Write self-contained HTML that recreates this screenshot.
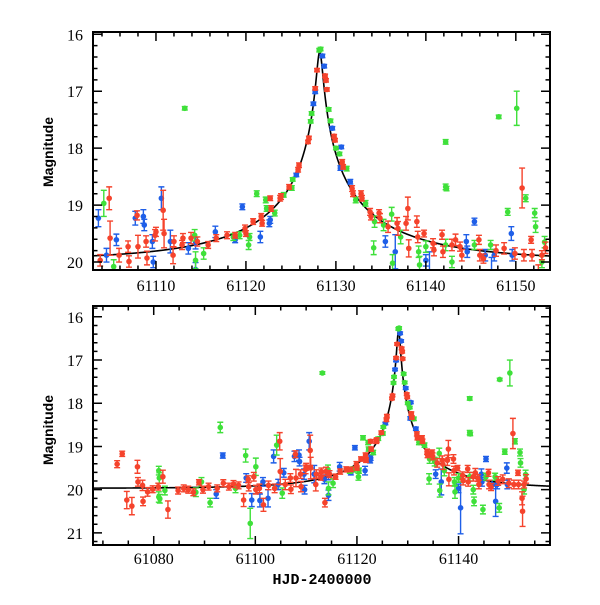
<!DOCTYPE html>
<html><head><meta charset="utf-8"><style>
html,body{margin:0;padding:0;background:#fff;}
svg text{font-family:"Liberation Serif",serif;}
</style></head><body>
<svg id="chart" xmlns="http://www.w3.org/2000/svg" width="600" height="600" viewBox="0 0 600 600">
<rect width="600" height="600" fill="#fff"/>
<text x="0" y="0" transform="translate(53,152) rotate(-90)" text-anchor="middle" style="font-family:'Liberation Sans',sans-serif;font-weight:bold;font-size:14px">Magnitude</text>
<text x="0" y="0" transform="translate(53,430) rotate(-90)" text-anchor="middle" style="font-family:'Liberation Sans',sans-serif;font-weight:bold;font-size:14px">Magnitude</text>
<text x="322" y="584" text-anchor="middle" style="font-family:'Liberation Mono',monospace;font-weight:bold;font-size:15px">HJD-2400000</text>
</svg>
<script>
const blueT=[61103.6,61104.5,61105.6,61107.7,61108.6,61108.7,61109.6,61109.7,61110.6,61111.6,61113.6,61114.4,61114.4,61116.6,61118.8,61119.6,61121.6,61122.6,61122.7,61125.6,61127.5,61127.7,61128.5,61128.7,61129.6,61130.6,61130.5,61131.6,61135.5,61136.6,61140.0,61140.4,61144.5,61144.6,61145.4,61146.6,61147.3,61147.6,61149.5,61149.6,61092.3,61093.6,61098.2,61099.3,61101.5,61102.5,61100.9];
const blueM=[19.23,19.88,19.61,19.23,19.20,19.35,19.64,20.00,18.88,19.64,19.76,20.13,19.67,19.47,19.61,19.03,19.56,19.32,19.26,18.47,17.22,17.01,16.38,16.56,17.65,17.98,18.35,18.59,19.64,19.82,19.97,20.42,19.64,19.82,19.29,19.88,20.27,19.88,19.50,19.88,20.10,19.21,19.73,20.24,19.82,20.2,20.25];
const blueE=[.15,.12,.1,.12,.12,.1,.12,.1,.2,.2,.1,.12,.1,.1,.05,.05,.1,.06,.06,.03,.03,.03,.03,.03,.03,.03,.04,.04,.1,.3,.1,.6,.12,.1,.06,.1,.35,.1,.12,.1,.1,.06,.1,.15,.1,.2,.15];

const redT=[61072.8,61073.8,61074.7,61075.7,61076.8,61076.9,61077.8,61077.9,61078.8,61079.8,61080.9,61081.8,61082.8,61084.8,61085.9,61086.8,61087.8,61088.9,61089.7,61090.8,61092.5,61093.7,61094.8,61095.7,61096.7,61097.7,61098.6,61098.7,61099.7,61100.1,61100.8,61101.6,61102.6,61103.8,61104.8,61104.9,61105.9,61106.9,61107.0,61107.9,61108.0,61108.9,61109.0,61109.9,61110.0,61110.8,61110.9,61111.9,61112.0,61112.9,61113.0,61113.7,61113.9,61114.6,61115.8,61116.7,61117.9,61118.8,61119.9,61120.0,61120.8,61121.7,61121.8,61122.7,61122.8,61123.8,61123.9,61124.8,61125.8,61125.9,61126.9,61127.0,61127.7,61127.9,61128.8,61128.9,61129.0,61129.8,61129.9,61130.7,61130.8,61131.8,61131.9,61132.8,61132.9,61133.8,61133.9,61134.8,61134.9,61135.8,61136.8,61136.9,61137.8,61138.0,61138.1,61139.0,61139.1,61139.8,61140.8,61140.9,61141.8,61141.9,61142.9,61143.3,61143.8,61144.0,61145.9,61146.0,61146.4,61147.8,61148.7,61149.9,61150.7,61150.9,61151.7,61151.8,61152.6,61152.5,61152.9,61153.3];
const redM=[19.41,19.17,20.24,20.38,19.47,19.82,19.90,20.27,20.05,19.99,19.93,19.70,20.46,20.02,19.97,20.00,20.06,19.83,20.00,19.93,19.97,19.85,19.93,19.87,19.90,20.24,19.76,19.93,19.70,20.00,19.97,20.35,19.90,19.97,18.88,19.58,19.88,19.73,19.99,19.18,19.73,19.64,19.93,19.53,19.47,19.09,19.50,19.88,19.64,19.70,19.58,20.30,19.58,19.64,19.70,19.58,19.53,19.53,19.41,19.50,19.29,19.20,19.32,18.88,19.06,18.88,18.85,18.68,18.38,18.30,17.89,17.82,16.95,16.63,16.73,16.81,16.97,17.79,17.86,18.24,18.33,18.71,18.80,18.80,18.88,19.12,19.20,19.14,19.23,19.38,19.32,19.41,19.32,19.06,19.76,19.29,19.56,19.50,19.67,19.79,19.52,19.82,19.70,19.61,19.73,19.88,19.61,19.88,19.94,19.80,19.76,19.85,18.70,19.88,19.61,19.88,20.50,20.20,19.88,19.75];
const redE=[.08,.06,.2,.2,.15,.1,.12,.1,.1,.08,.08,.15,.2,.08,.08,.08,.08,.06,.08,.08,.08,.08,.08,.08,.08,.15,.08,.1,.1,.1,.1,.15,.1,.1,.2,.3,.12,.1,.1,.08,.2,.1,.12,.1,.08,.35,.25,.15,.1,.08,.08,.1,.1,.08,.06,.06,.06,.05,.06,.05,.05,.05,.05,.04,.05,.05,.05,.04,.04,.04,.03,.03,.03,.03,.03,.03,.03,.03,.03,.04,.04,.05,.05,.05,.05,.06,.06,.06,.08,.1,.1,.12,.12,.2,.15,.1,.1,.06,.08,.1,.08,.1,.1,.1,.08,.1,.08,.1,.08,.1,.1,.1,.35,.1,.06,.1,.35,.15,.08,.1];

const greenT=[61081.0,61081.1,61081.0,61081.2,61082.2,61088.3,61089.4,61091.1,61093.1,61096.1,61098.1,61099.0,61100.1,61104.2,61105.3,61113.2,61114.3,61114.4,61115.3,61118.6,61119.3,61120.3,61120.4,61121.2,61122.2,61122.3,61123.2,61124.2,61125.1,61125.2,61127.2,61127.3,61128.15,61128.3,61129.2,61129.4,61130.0,61130.4,61131.2,61132.2,61133.3,61134.3,61134.2,61135.3,61136.2,61136.3,61137.2,61139.2,61139.3,61140.0,61142.2,61142.2,61142.3,61142.2,61142.9,61143.05,61144.8,61145.4,61147.2,61148.0,61148.1,61149.1,61150.1,61151.1,61152.1,61152.2,61153.2,61152.9];
const greenM=[19.56,19.73,20.17,20.21,20.02,20.06,19.82,20.30,18.56,19.97,19.21,20.78,19.47,18.97,20.08,17.30,19.53,19.97,19.85,19.56,19.53,19.70,19.56,18.80,18.91,19.06,19.14,18.82,18.70,18.55,17.53,17.39,16.28,16.26,17.32,17.52,18.00,18.10,18.36,18.91,18.97,19.29,19.75,19.35,19.16,20.02,19.56,19.82,20.05,19.73,17.89,18.68,18.71,19.70,20.00,20.27,20.46,19.70,19.70,20.42,17.45,19.12,17.30,18.88,19.14,19.38,19.65,20.00];
const greenE=[.1,.12,.12,.1,.1,.1,.1,.1,.12,.1,.15,.35,.2,.23,.12,.03,.1,.15,.1,.06,.06,.08,.06,.05,.05,.05,.05,.04,.04,.03,.03,.03,.03,.03,.03,.03,.03,.03,.04,.05,.05,.1,.12,.1,.12,.15,.12,.1,.15,.1,.04,.05,.04,.1,.1,.1,.1,.08,.08,.1,.03,.06,.3,.06,.08,.1,.1,.1];

const topXTicks=[61110,61120,61130,61140,61150];
const bottomXTicks=[61080,61100,61120,61140];
const topYTicks=[16,17,18,19,20];
const bottomYTicks=[16,17,18,19,20,21];
// microlensing model parameters
const model={t0:61128.2,tE:17,u0:0.0192,fs:0.55,mbase:19.97};

const NS='http://www.w3.org/2000/svg';
const svg=document.getElementById('chart');
function mk(tag,attrs,parent){const e=document.createElementNS(NS,tag);for(const k in attrs)e.setAttribute(k,attrs[k]);(parent||svg).appendChild(e);return e;}
function modelMag(t){const u=Math.sqrt(model.u0*model.u0+Math.pow((t-model.t0)/model.tE,2));const A=(u*u+2)/(u*Math.sqrt(u*u+4));return model.mbase-2.5*Math.log10(model.fs*A+1-model.fs);}

const panels=[
 {id:'top',L:93,R:550,T:32,B:270,xmin:61103.0,xmax:61153.8,ymin:15.96,ymax:20.14,xt:topXTicks,xminor:2,yt:topYTicks,labelY:291},
 {id:'bottom',L:93,R:550,T:306,B:545,xmin:61068.05,xmax:61158.0,ymin:15.75,ymax:21.28,xt:bottomXTicks,xminor:5,yt:bottomYTicks,labelY:564}
];
const colors={blue:'#1f5fe8',green:'#3fe03a',red:'#f5432c'};
const series=[['blue',blueT,blueM,blueE],['green',greenT,greenM,greenE],['red',redT,redM,redE]];

panels.forEach(p=>{
 const sx=t=>p.L+(t-p.xmin)/(p.xmax-p.xmin)*(p.R-p.L);
 const sy=m=>p.T+(m-p.ymin)/(p.ymax-p.ymin)*(p.B-p.T);
 const g=mk('g',{});
 
 
 const clip=mk('clipPath',{id:'clip-'+p.id},g);
 mk('rect',{x:p.L,y:p.T,width:p.R-p.L,height:p.B-p.T},clip);
 const plot=mk('g',{'clip-path':'url(#clip-'+p.id+')'},g);
 
 
 let d='';
 for(let px=p.L;px<=p.R;px+=0.5){const t=p.xmin+(px-p.L)/(p.R-p.L)*(p.xmax-p.xmin);d+=(d?'L':'M')+px.toFixed(1)+','+sy(modelMag(t)).toFixed(2);}
 const curve=mk('path',{d:d,fill:'none',stroke:'#000','stroke-width':1.6},plot);
 
 
 series.forEach(([name,T,M,E])=>{
  const sg=mk('g',{stroke:colors[name],fill:colors[name]},plot);
  
  
  for(let i=0;i<T.length;i++){
   const x=sx(T[i]),y=sy(M[i]),y1=sy(M[i]-E[i]),y2=sy(M[i]+E[i]);
   const pg=mk('g',{},sg);
   
   
   mk('path',{d:`M${x},${y1}L${x},${y2}M${x-3},${y1}L${x+3},${y1}M${x-3},${y2}L${x+3},${y2}`,'stroke-width':1.4,fill:'none'},pg);
   mk('circle',{cx:x,cy:y,r:2.8,stroke:'none'},pg);
  }
 });
 const fr=mk('rect',{x:p.L,y:p.T,width:p.R-p.L,height:p.B-p.T,fill:'none',stroke:'#000','stroke-width':2},g);
 
 
 let td='';
 const tx0=Math.ceil(p.xmin/p.xminor)*p.xminor;
 for(let t=tx0;t<=p.xmax;t+=p.xminor){const x=sx(t);const major=p.xt.includes(t)||(t%(p.xminor*5)===0&&p.id==='top')||(p.id==='bottom'&&t%20===0);const len=major?9:4.5;td+=`M${x},${p.B}L${x},${p.B-len}M${x},${p.T}L${x},${p.T+len}`;}
 for(let m=Math.ceil(p.ymin*5)/5;m<=p.ymax+1e-9;m+=0.2){const y=sy(m);const major=Math.abs(m-Math.round(m))<1e-6;const len=major?9:4.5;td+=`M${p.L},${y}L${p.L+len},${y}M${p.R},${y}L${p.R-len},${y}`;}
 const ticks=mk('path',{d:td,stroke:'#000','stroke-width':1.5,fill:'none'},g);
 
 
 p.xt.forEach(t=>{const tl=mk('text',{x:sx(t),y:p.labelY,'text-anchor':'middle','font-size':16},g);tl.textContent=String(t);
  
  });
 p.yt.forEach(m=>{const tl=mk('text',{x:p.L-10,y:sy(m)+6,'text-anchor':'end','font-size':16},g);tl.textContent=String(m);
  
  });
});
</script>
</body></html>
